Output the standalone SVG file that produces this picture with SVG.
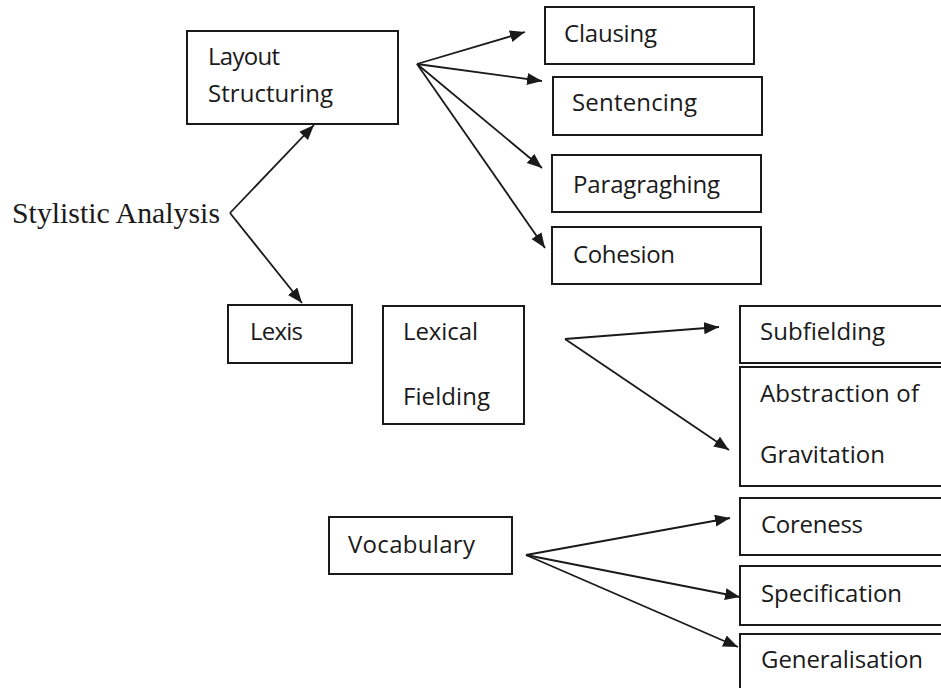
<svg xmlns="http://www.w3.org/2000/svg" width="941" height="688" viewBox="0 0 941 688">
<style>
.box{fill:#fff;stroke:#1a1a1a;stroke-width:2}
.t{font-family:"Open Sans","Noto Sans","Liberation Sans",sans-serif;font-size:24px;fill:#1a1a1a}
.s{font-family:"Liberation Serif","DejaVu Serif",serif;font-size:29px;fill:#1a1a1a}
.c{stroke:#1a1a1a;stroke-width:1.8;fill:none;marker-end:url(#ah)}
</style>
<defs>
<marker id="ah" markerUnits="userSpaceOnUse" markerWidth="16" markerHeight="13" refX="15" refY="6" orient="auto">
<path d="M0,0 L15,6 L0,12 z" fill="#1a1a1a"/>
</marker>
</defs>
<rect width="941" height="688" fill="#fff"/>
<g id="connectors">
<line class="c" x1="417" y1="64" x2="525" y2="32"/>
<line class="c" x1="417" y1="64" x2="542" y2="81"/>
<line class="c" x1="417" y1="64" x2="542" y2="168"/>
<line class="c" x1="417" y1="64" x2="545" y2="248"/>
<line class="c" x1="230" y1="213" x2="314" y2="125"/>
<line class="c" x1="230" y1="213" x2="302" y2="303"/>
<line class="c" x1="565" y1="339" x2="719" y2="327"/>
<line class="c" x1="565" y1="339" x2="729" y2="450"/>
<line class="c" x1="526" y1="555" x2="730" y2="518"/>
<line class="c" x1="526" y1="555" x2="740" y2="597"/>
<line class="c" x1="526" y1="555" x2="738" y2="647"/>
</g>
<g id="stylistic"><text class="s" x="12" y="223" textLength="208" lengthAdjust="spacingAndGlyphs">Stylistic Analysis</text></g>
<g id="layout"><rect class="box" x="187" y="31" width="211" height="93"/><text class="t" x="208" y="65" textLength="72">Layout</text><text class="t" x="208" y="102" textLength="125">Structuring</text></g>
<g id="clausing"><rect class="box" x="545" y="7" width="209" height="57"/><text class="t" x="564" y="42" textLength="93">Clausing</text></g>
<g id="sentencing"><rect class="box" x="553" y="77" width="209" height="58"/><text class="t" x="572" y="111" textLength="125">Sentencing</text></g>
<g id="paragraghing"><rect class="box" x="552" y="155" width="209" height="57"/><text class="t" x="573" y="193" textLength="147">Paragraghing</text></g>
<g id="cohesion"><rect class="box" x="552" y="227" width="209" height="57"/><text class="t" x="573" y="263" textLength="102">Cohesion</text></g>
<g id="lexis"><rect class="box" x="228" y="305" width="124" height="58"/><text class="t" x="250" y="340" textLength="53">Lexis</text></g>
<g id="lexical"><rect class="box" x="383" y="306" width="141" height="118"/><text class="t" x="403" y="340" textLength="75">Lexical</text><text class="t" x="403" y="405" textLength="87">Fielding</text></g>
<g id="subfielding"><rect class="box" x="740" y="306" width="220" height="57"/><text class="t" x="760" y="340" textLength="125">Subfielding</text></g>
<g id="abstraction"><rect class="box" x="740" y="367" width="220" height="119"/><text class="t" x="760" y="402" textLength="159">Abstraction of</text><text class="t" x="760" y="463" textLength="125">Gravitation</text></g>
<g id="vocabulary"><rect class="box" x="329" y="517" width="183" height="57"/><text class="t" x="348" y="553" textLength="127">Vocabulary</text></g>
<g id="coreness"><rect class="box" x="740" y="498" width="220" height="57"/><text class="t" x="761" y="533" textLength="102">Coreness</text></g>
<g id="specification"><rect class="box" x="740" y="566" width="220" height="59"/><text class="t" x="761" y="602" textLength="141">Specification</text></g>
<g id="generalisation"><rect class="box" x="740" y="634" width="220" height="70"/><text class="t" x="761" y="668" textLength="162">Generalisation</text></g>
</svg>
